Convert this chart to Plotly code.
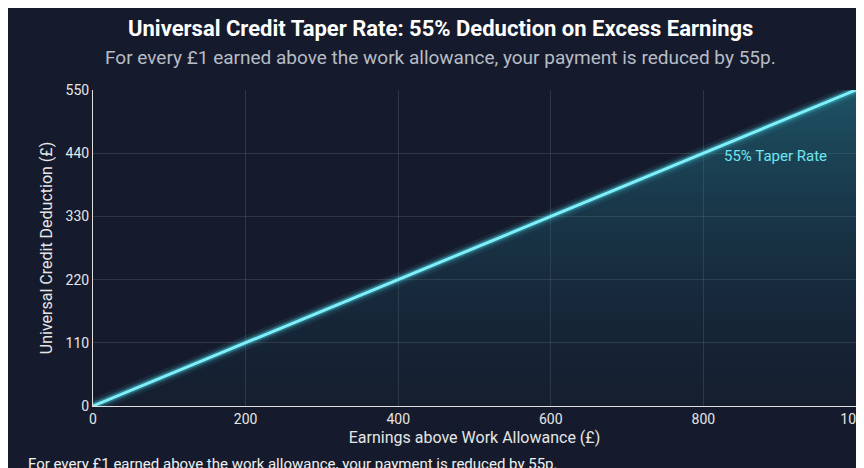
import plotly.graph_objects as go

earnings = [0, 200, 400, 600, 800, 1000]
deduction = [0, 110, 220, 330, 440, 550]
y_ticks = [0, 110, 220, 330, 440, 550]
x_ticks = [0, 200, 400, 600, 800, 1000]

fig = go.Figure()
for w, op in [(14, 0.08), (9, 0.15), (6, 0.3)]:
    fig.add_trace(go.Scatter(x=earnings, y=deduction, mode="lines",
                             line=dict(color="#4fe3f5", width=w), opacity=op,
                             hoverinfo="skip", showlegend=False))
fig.add_trace(go.Scatter(x=earnings, y=deduction, mode="lines",
                         line=dict(color="#7ff0fa", width=3),
                         fill="tozeroy",
                         fillgradient=dict(type="vertical",
                                           colorscale=[[0, "rgba(20,60,80,0.1)"], [1, "rgba(40,150,170,0.45)"]]),
                         showlegend=False, name="55% Taper Rate"))

fig.add_annotation(x=895, y=435, text="55% Taper Rate", showarrow=False,
                   font=dict(color="#6fe6f2", size=15, family="Roboto"))

W, H = 864, 468
L, R, T, B = 85, 16, 82, 70
def px(x): return (x - L) / (W - L - R)
def py(y): return (H - B - y) / (H - T - B)

fig.add_annotation(xref="paper", yref="paper", x=px(432), y=py(20), xanchor="center", yanchor="middle",
                   text="<b>Universal Credit Taper Rate: 55% Deduction on Excess Earnings</b>",
                   showarrow=False, font=dict(size=22, color="#ffffff"))
fig.add_annotation(xref="paper", yref="paper", x=px(432), y=py(50), xanchor="center", yanchor="middle",
                   text="For every £1 earned above the work allowance, your payment is reduced by 55p.",
                   showarrow=False, font=dict(size=19, color="#b8bcc6"))
fig.add_annotation(xref="paper", yref="paper", x=px(18), y=py(456), xanchor="left", yanchor="middle",
                   text="For every £1 earned above the work allowance, your payment is reduced by 55p.",
                   showarrow=False, font=dict(size=15, color="#f0f0f0"))

fig.update_layout(
    width=W, height=H,
    paper_bgcolor="#151b2c", plot_bgcolor="#151b2c",
    margin=dict(l=L, r=R, t=T, b=B, autoexpand=False),
    font=dict(family="Roboto", color="#d0d4dc"),
    xaxis=dict(range=[0, 1000], tickvals=x_ticks, showgrid=True, automargin=False,
               gridcolor="rgba(255,255,255,0.12)", zeroline=False,
               showline=True, linecolor="#e0e0e0",
               tickfont=dict(size=14, color="#e6e6e6"),
               title=dict(text="Earnings above Work Allowance (£)", font=dict(size=16, color="#e6e6e6"), standoff=6)),
    yaxis=dict(range=[0, 550], tickvals=y_ticks, showgrid=True, automargin=False,
               gridcolor="rgba(255,255,255,0.12)", zeroline=False,
               showline=True, linecolor="#e0e0e0",
               tickfont=dict(size=14, color="#e6e6e6"),
               title=dict(text="Universal Credit Deduction (£)", font=dict(size=16, color="#e6e6e6"), standoff=8)),
)

fig.write_html("out.html")
